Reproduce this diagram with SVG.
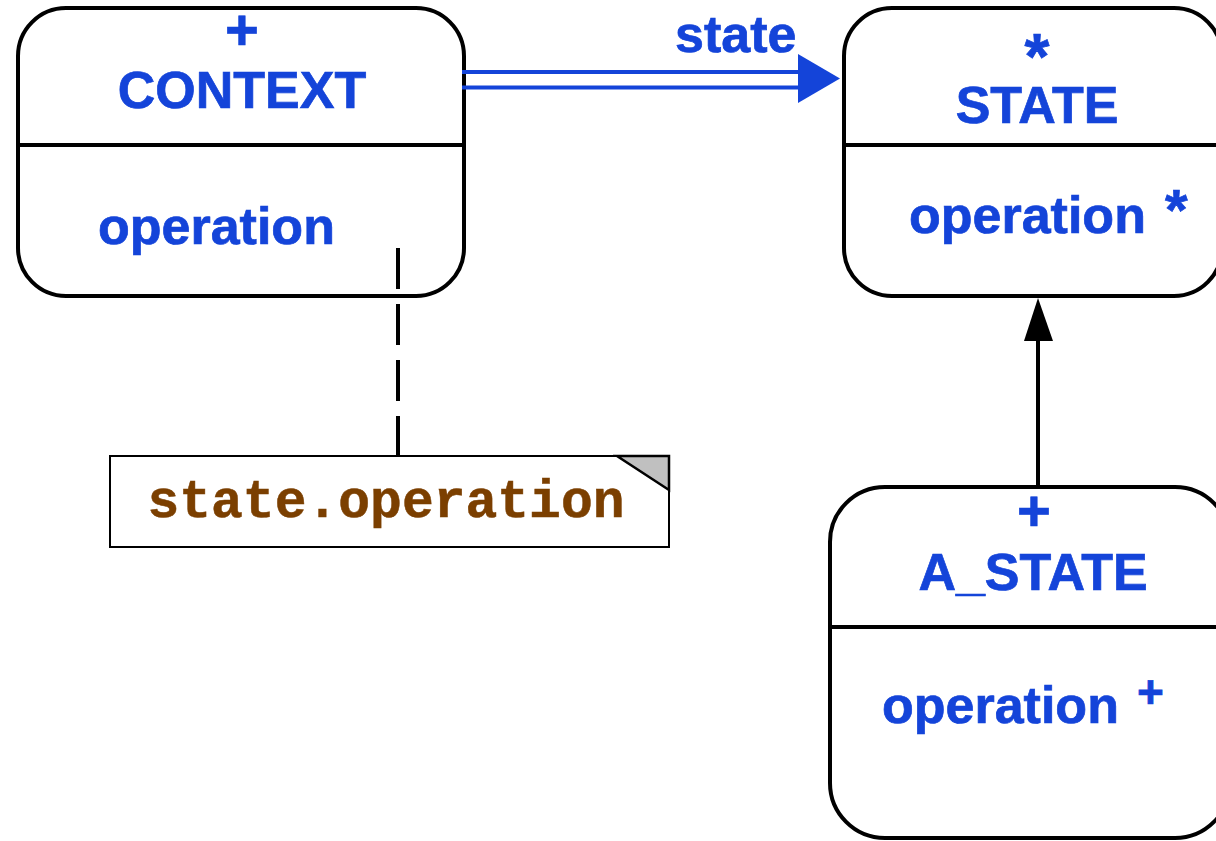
<svg xmlns="http://www.w3.org/2000/svg" width="1216" height="841" viewBox="0 0 1216 841">
<style>
.box{fill:#fff;stroke:#000;stroke-width:4}
.div{stroke:#000;stroke-width:4}
.t{font-family:"Liberation Sans",Arial,sans-serif;font-weight:bold;fill:#1444d9;font-size:52px;stroke:#1444d9;stroke-width:0.7}
.c{text-anchor:middle}
.note{font-family:"Liberation Mono","Courier New",monospace;font-weight:bold;fill:#7b3f00;font-size:53px;stroke:#7b3f00;stroke-width:0.5}
</style>
<rect width="1216" height="841" fill="#fff"/>
<g id="context">
  <rect class="box" x="18" y="8" width="446" height="288" rx="48" ry="48"/>
  <line class="div" x1="18" y1="145" x2="464" y2="145"/>
  <text class="t c" x="242" y="50" style="font-size:58px">+</text>
  <text class="t c" x="242" y="108">CONTEXT</text>
  <text class="t" x="98" y="244">operation</text>
</g>
<g id="state">
  <rect class="box" x="844" y="8" width="378" height="288" rx="48" ry="48"/>
  <line class="div" x1="844" y1="145" x2="1222" y2="145"/>
  <text class="t c" x="1037" y="79" style="font-size:64px">*</text>
  <text class="t c" x="1037" y="123">STATE</text>
  <text class="t" x="909" y="233">operation</text>
  <text class="t" x="1165" y="230" style="font-size:58px">*</text>
</g>
<g id="a_state">
  <rect class="box" x="830" y="487" width="400" height="351" rx="55" ry="55"/>
  <line class="div" x1="830" y1="627" x2="1230" y2="627"/>
  <text class="t c" x="1034" y="531" style="font-size:58px">+</text>
  <text class="t c" x="1033" y="590">A_STATE</text>
  <text class="t" x="882" y="723">operation</text>
  <text class="t" x="1137" y="708" style="font-size:46px">+</text>
</g>
<g id="note">
  <polygon points="110,456 669,456 669,547 110,547" fill="#fff" stroke="#000" stroke-width="2"/>
  <polygon points="617,456 669,456 669,490" fill="#c0c0c0" stroke="#000" stroke-width="2.5" stroke-linejoin="miter"/>
  <text class="note" x="386" y="517" text-anchor="middle">state.operation</text>
</g>
<g id="connectors">
  <line x1="462" y1="72" x2="800" y2="72" stroke="#1444d9" stroke-width="4"/>
  <line x1="462" y1="87.5" x2="800" y2="87.5" stroke="#1444d9" stroke-width="4"/>
  <polygon points="798,54 840,78.5 798,103" fill="#1444d9"/>
  <text class="t" x="675" y="52">state</text>
  <line x1="1038" y1="487" x2="1038" y2="338" stroke="#000" stroke-width="4"/>
  <polygon points="1038,298 1024,341 1053,341" fill="#000"/>
  <line x1="398" y1="248" x2="398" y2="456" stroke="#000" stroke-width="4" stroke-dasharray="41,15"/>
</g>
</svg>
